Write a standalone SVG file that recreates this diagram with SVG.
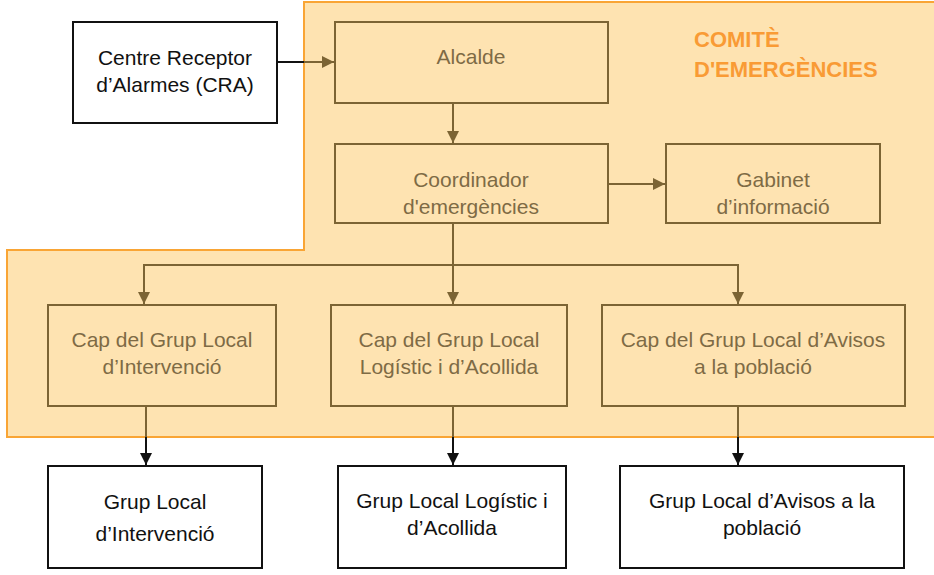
<svg xmlns="http://www.w3.org/2000/svg" width="934" height="575" viewBox="0 0 934 575">
<defs>
<style>
.zone{fill:#FEE3B1;stroke:#F9A535;stroke-width:2}
.inner{fill:#FEE3B1;stroke:#7C6434;stroke-width:2}
.outer{fill:#FFFFFF;stroke:#111111;stroke-width:2}
.ti{font-family:"Liberation Sans",Arial,sans-serif;font-size:21px;fill:#7E6B45;text-anchor:middle}
.to{font-family:"Liberation Sans",Arial,sans-serif;font-size:21px;fill:#111111;text-anchor:middle}
.title{font-family:"Liberation Sans",Arial,sans-serif;font-size:22px;font-weight:bold;fill:#F99B35}
.cb{fill:none;stroke:#7C6434;stroke-width:2}
.ck{fill:none;stroke:#111111;stroke-width:2}
</style>
<marker id="ab" viewBox="0 0 10 10" refX="10" refY="5" markerWidth="12" markerHeight="12" orient="auto" markerUnits="userSpaceOnUse"><path d="M0,0 L10,5 L0,10 z" fill="#7C6434"/></marker>
<marker id="ak" viewBox="0 0 10 10" refX="10" refY="5" markerWidth="12" markerHeight="12" orient="auto" markerUnits="userSpaceOnUse"><path d="M0,0 L10,5 L0,10 z" fill="#111111"/></marker>
</defs>
<path class="zone" d="M304,2 H940 V437 H7 V250 H304 Z"/>
<text class="title" x="694" y="47">COMITÈ</text>
<text class="title" x="694" y="77">D'EMERGÈNCIES</text>

<g id="connectors">
<path class="ck" d="M277,62 H304"/>
<path class="cb" d="M304,62 H334" marker-end="url(#ab)"/>
<path class="cb" d="M453,103 V143" marker-end="url(#ab)"/>
<path class="cb" d="M608,184 H665" marker-end="url(#ab)"/>
<path class="cb" d="M453,223 V304" marker-end="url(#ab)"/>
<path class="cb" d="M144,304 V265 H738 V304" marker-end="url(#ab)"/>
<path class="cb" d="M144,265 V304" marker-end="url(#ab)"/>
<path class="cb" d="M146,406 V437"/><path class="ck" d="M146,437 V465" marker-end="url(#ak)"/>
<path class="cb" d="M453,406 V437"/><path class="ck" d="M453,437 V465" marker-end="url(#ak)"/>
<path class="cb" d="M738,406 V437"/><path class="ck" d="M738,437 V465" marker-end="url(#ak)"/>
</g>

<g id="cra"><rect class="outer" x="73" y="22" width="204" height="101"/>
<text class="to" x="175" y="65">Centre Receptor</text><text class="to" x="175" y="92">d’Alarmes (CRA)</text></g>
<g id="alcalde"><rect class="inner" x="335" y="22" width="273" height="81"/>
<text class="ti" x="471" y="64">Alcalde</text></g>
<g id="coordinador"><rect class="inner" x="335" y="144" width="273" height="79"/>
<text class="ti" x="471" y="187">Coordinador</text><text class="ti" x="471" y="214">d'emergències</text></g>
<g id="gabinet"><rect class="inner" x="666" y="144" width="214" height="79"/>
<text class="ti" x="773" y="187">Gabinet</text><text class="ti" x="773" y="214">d’informació</text></g>
<g id="cap-intervencio"><rect class="inner" x="48" y="305" width="228" height="101"/>
<text class="ti" x="162" y="347">Cap del Grup Local</text><text class="ti" x="162" y="374">d’Intervenció</text></g>
<g id="cap-logistic"><rect class="inner" x="331" y="305" width="236" height="101"/>
<text class="ti" x="449" y="347">Cap del Grup Local</text><text class="ti" x="449" y="374">Logístic i d’Acollida</text></g>
<g id="cap-avisos"><rect class="inner" x="602" y="305" width="303" height="101"/>
<text class="ti" x="753" y="347">Cap del Grup Local d’Avisos</text><text class="ti" x="753" y="374">a la població</text></g>
<g id="grup-intervencio"><rect class="outer" x="48" y="466" width="214" height="102"/>
<text class="to" x="155" y="509">Grup Local</text><text class="to" x="155" y="541">d’Intervenció</text></g>
<g id="grup-logistic"><rect class="outer" x="338" y="466" width="228" height="102"/>
<text class="to" x="452" y="508">Grup Local Logístic i</text><text class="to" x="452" y="535">d’Acollida</text></g>
<g id="grup-avisos"><rect class="outer" x="620" y="466" width="284" height="102"/>
<text class="to" x="762" y="508">Grup Local d’Avisos a la</text><text class="to" x="762" y="535">població</text></g>
</svg>
